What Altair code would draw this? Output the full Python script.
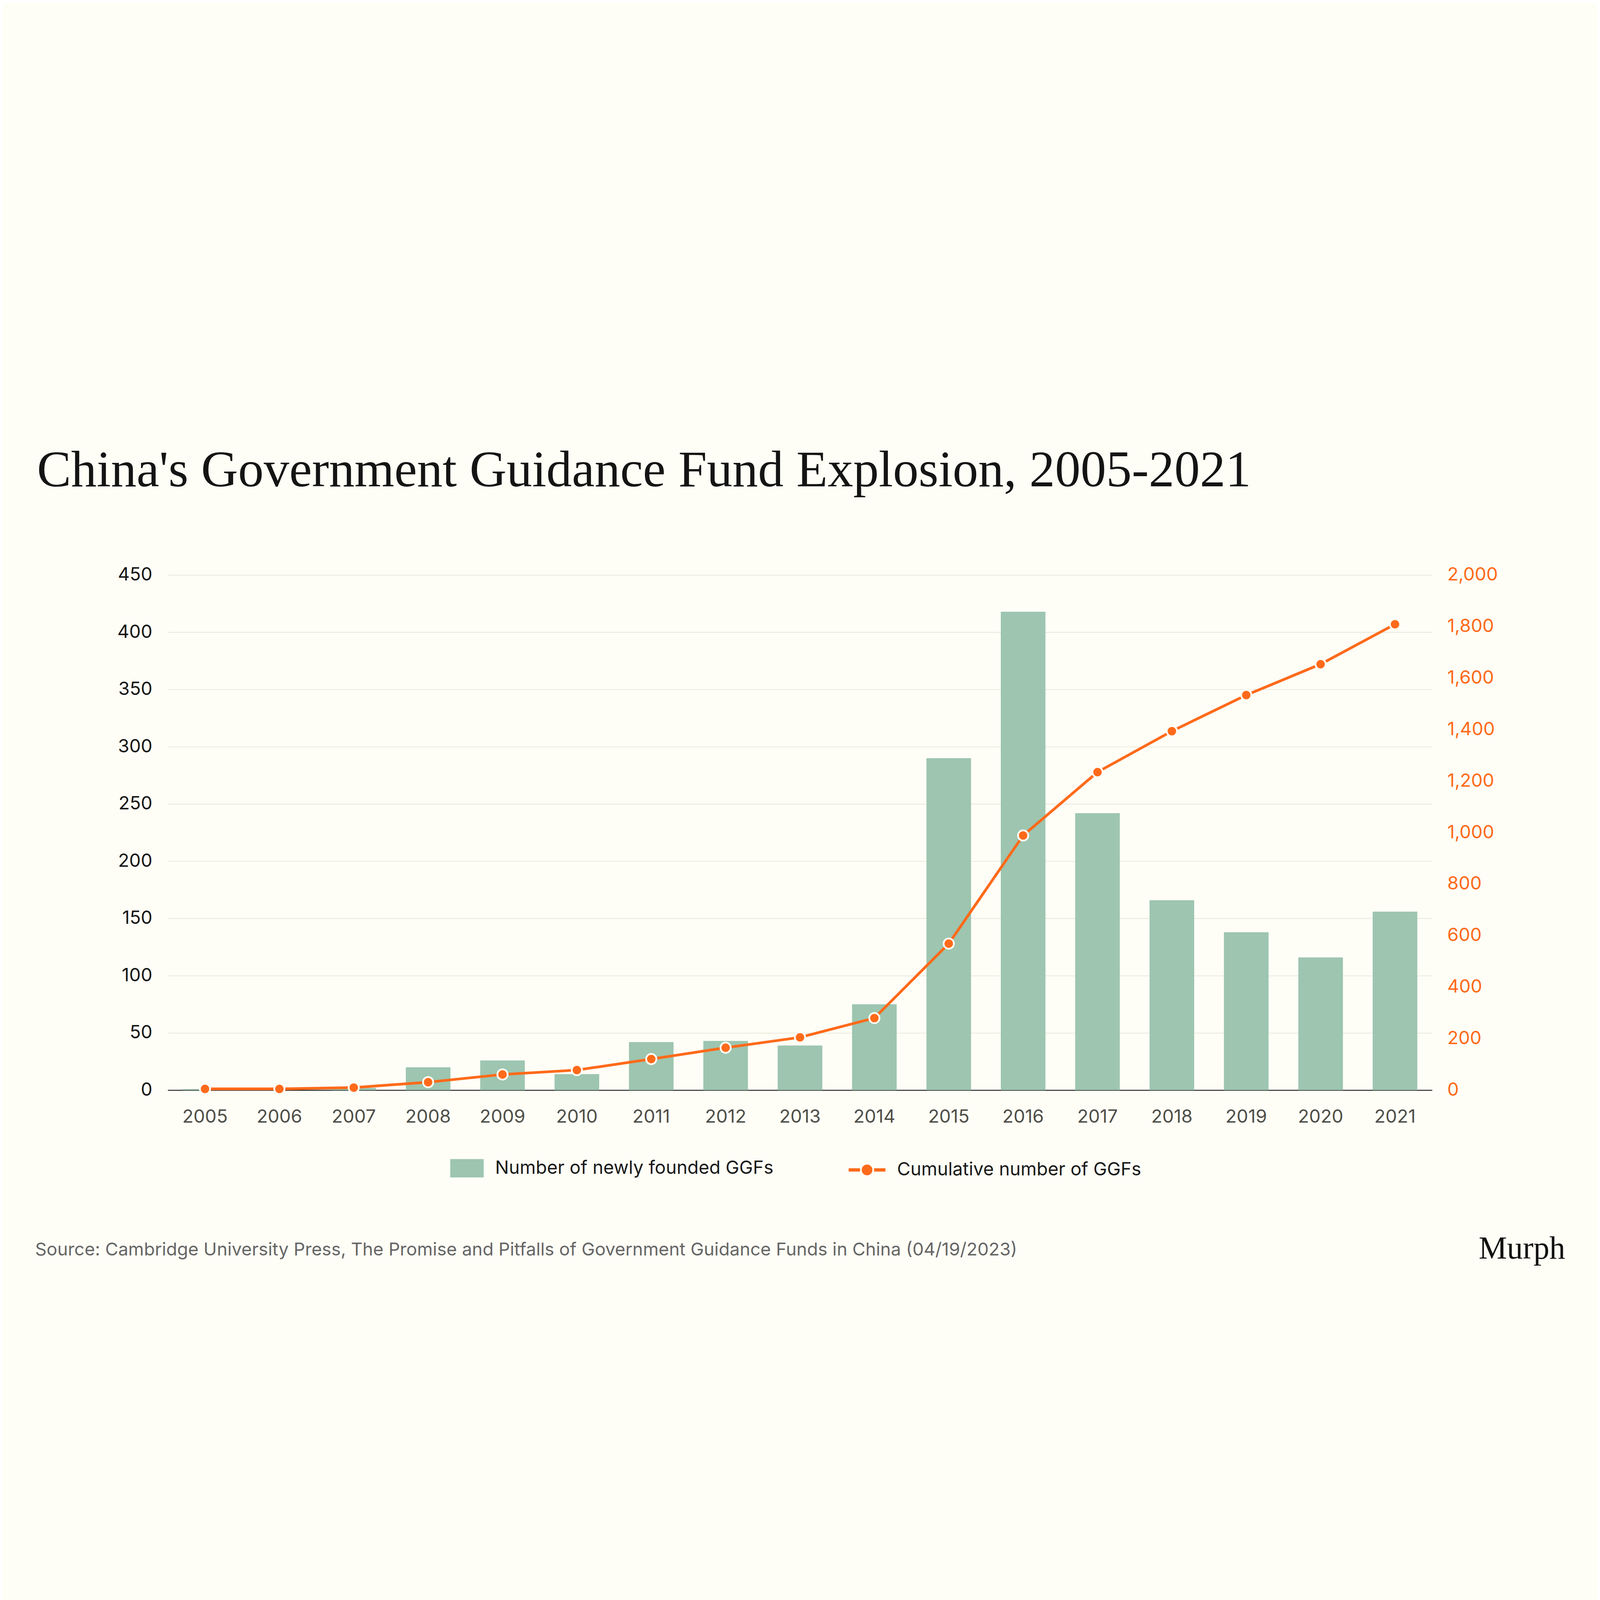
import altair as alt
import pandas as pd

years = [str(y) for y in range(2005, 2022)]
new_funds = [1, 0, 2, 20, 26, 14, 42, 43, 39, 75, 290, 418, 242, 166, 138, 116, 156]
cumulative = [5, 5, 10, 31, 61, 78, 121, 165, 205, 280, 569, 989, 1235, 1394, 1534, 1654, 1809]
left_ticks = list(range(0, 451, 50))
right_ticks = list(range(0, 2001, 200))

bar_name = "Number of newly founded GGFs"
line_name = "Cumulative number of GGFs"
title_text = "China's Government Guidance Fund Explosion, 2005-2021"
source_text = ("Source: Cambridge University Press, The Promise and Pitfalls of "
               "Government Guidance Funds in China (04/19/2023)")
brand_text = "Murph"

GREEN = "#9dc5af"
ORANGE = "#ff6a1a"
BG = "#fefef6"
SANS = "Inter"
SERIF = "Liberation Serif"

df = pd.DataFrame({
    "year": years,
    "new": new_funds,
    "cum": cumulative,
    "bar_s": bar_name,
    "line_s": line_name,
})

# shared band x axis
x_enc = alt.X(
    "year:O", title=None,
    scale=alt.Scale(paddingInner=0.4, paddingOuter=0.2),
    axis=alt.Axis(labelAngle=0, labelColor="#4f4f49", labelFont=SANS, labelFontSize=88,
                  labelPadding=85, labelLimit=0, domain=True, domainColor="#1a1a1a",
                  domainWidth=4, ticks=False, grid=False),
)

y_left = alt.Y(
    "new:Q", title=None, scale=alt.Scale(domain=[0, 450]),
    axis=alt.Axis(values=left_ticks, orient="left", labelColor="#161616", labelFont=SANS,
                  labelFontSize=88, labelPadding=75, labelLimit=0, grid=True,
                  gridColor="#e3e3d8", gridWidth=3, domain=False, ticks=False),
)

y_right = alt.Y(
    "cum:Q", title=None, scale=alt.Scale(domain=[0, 2000]),
    axis=alt.Axis(values=right_ticks, orient="right", format=",.0f", labelColor=ORANGE,
                  labelFont=SANS, labelFontSize=88, labelPadding=72, labelLimit=0,
                  grid=False, domain=False, ticks=False),
)

bars = alt.Chart(df).mark_bar().encode(
    x=x_enc,
    y=y_left,
    color=alt.Color(
        "bar_s:N",
        scale=alt.Scale(domain=[bar_name], range=[GREEN]),
        legend=alt.Legend(title=None, orient="none", legendX=1358, legendY=2772,
                          symbolType="M-1,-0.547H1V0.547H-1Z", symbolSize=25921,
                          symbolStrokeWidth=0, labelFont=SANS, labelFontSize=88,
                          labelColor="#1a1a1a", labelOffset=55, labelLimit=0, padding=0),
    ),
)

line = alt.Chart(df).mark_line(strokeWidth=13).encode(
    x=x_enc,
    y=y_right,
    stroke=alt.Stroke(
        "line_s:N",
        scale=alt.Scale(domain=[line_name], range=[ORANGE]),
        legend=alt.Legend(title=None, orient="none", legendX=3266, legendY=2764,
                          symbolType="M-1,0H-0.38M0.38,0H1M0.2,0A0.2,0.2,0,1,1,-0.2,0A0.2,0.2,0,1,1,0.2,0Z",
                          symbolSize=31329, symbolStrokeWidth=16, symbolFillColor=ORANGE,
                          labelFont=SANS, labelFontSize=88, labelColor="#1a1a1a",
                          labelOffset=48, labelLimit=0, padding=0),
    ),
)

points = alt.Chart(df).mark_circle(color=ORANGE, stroke=BG, strokeWidth=8.5,
                                   size=2420, opacity=1).encode(x=x_enc, y=y_right)

source = alt.Chart(pd.DataFrame({"t": [source_text]})).mark_text(
    align="left", baseline="alphabetic", font=SANS, fontSize=86, color="#666666"
).encode(x=alt.value(-638), y=alt.value(3271), text="t:N")

brand = alt.Chart(pd.DataFrame({"t": [brand_text]})).mark_text(
    align="right", baseline="alphabetic", font=SERIF, fontSize=153, color="#111111"
).encode(x=alt.value(6720), y=alt.value(3287), text="t:N")

chart = alt.layer(bars, alt.layer(line, points), source, brand).resolve_scale(
    y="independent"
).properties(
    width=6080,
    height=2477,
    autosize=alt.AutoSizeParams(type="none"),
    padding={"left": 792, "top": 860, "right": 792, "bottom": 967},
    background=BG,
    title=alt.TitleParams(title_text, font=SERIF, fontSize=246, fontWeight="normal",
                          color="#141414", anchor="start", frame="group", dx=-629,
                          offset=330),
).configure_view(stroke=None)

chart.save("out.html", embed_options={"renderer": "svg", "actions": False})
